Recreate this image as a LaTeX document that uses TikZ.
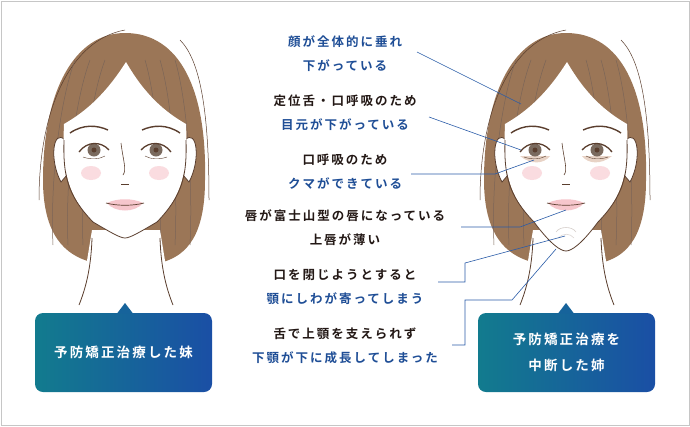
\documentclass[tikz,border=0pt]{standalone}
\usepackage{fontspec}
\setmainfont{Noto Sans CJK JP Bold}
\usetikzlibrary{positioning}
\definecolor{hairbrown}{HTML}{9B7657}
\definecolor{lineink}{HTML}{5A3E2E}
\definecolor{irisgray}{HTML}{7A6A5E}
\definecolor{blushpink}{HTML}{FADCE0}
\definecolor{lippink}{HTML}{F6C6CC}
\definecolor{bagbeige}{HTML}{E8D3C6}
\definecolor{textdark}{HTML}{231815}
\definecolor{textblue}{HTML}{1F4E96}
\definecolor{leadblue}{HTML}{2A5CA8}
\definecolor{boxteal}{HTML}{127B8E}
\definecolor{boxblue}{HTML}{1A4FA5}
\tikzset{
  note/.style={align=center, font=\fontsize{12.5}{24}\selectfont\addfontfeatures{LetterSpace=16}, text=textdark},
  lead/.style={draw=leadblue, line width=0.6pt},
  title/.style={align=center, text=white, font=\fontsize{13.5}{26}\selectfont\addfontfeatures{LetterSpace=16}},
  ink/.style={draw=lineink, line width=0.8pt},
}
% one face, #1 = x of centre, #2 = y of chin, #3 = eye bags or not
\newcommand{\drawface}[3]{%
\begin{scope}[shift={(#1,0)}]
 % hair
 \fill[hairbrown] (-34,262) .. controls (-60,255) and (-82,235) .. (-82,180)
   .. controls (-82,90) and (-50,33) .. (0,33)
   .. controls (55,33) and (82,90) .. (80,180)
   .. controls (80,235) and (62,255) .. (38,262) -- cycle;
 \draw[lineink, line width=0.5pt] (-86,200) .. controls (-86,110) and (-55,40) .. (0,30);
 \draw[lineink, line width=0.5pt] (55,40) .. controls (75,60) and (84,110) .. (84,200);
 \foreach \k in {-50,-35,-20}
   \draw[lineink!80, line width=0.5pt] (\k,60) .. controls (\k-15,100) and (\k-25,180) .. (\k-22,245);
 \foreach \k in {20,35,50}
   \draw[lineink!80, line width=0.5pt] (\k,60) .. controls (\k+12,100) and (\k+18,180) .. (\k+15,245);
 % neck
 \fill[white] (-33,230) -- (-46,310) -- (48,310) -- (35,230) -- cycle;
 \draw[ink] (-33,238) .. controls (-34,270) and (-40,290) .. (-46,305);
 \draw[ink] (35,238) .. controls (36,270) and (42,290) .. (48,305);
 % ears
 \foreach \s in {-1,1}
   \filldraw[fill=white, ink] (\s*60,140) .. controls (\s*72,128) and (\s*76,160) .. (\s*64,182) -- (\s*58,175) -- cycle;
 % face
 \fill[white] (1,62) .. controls (20,95) and (40,112) .. (61,124)
   .. controls (63,170) and (58,195) .. (32,222)
   .. controls (15,#2-6) and (5,#2) .. (0,#2)
   .. controls (-5,#2) and (-15,#2-6) .. (-32,222)
   .. controls (-58,195) and (-63,170) .. (-61,124)
   .. controls (-40,112) and (-20,95) .. (1,62) -- cycle;
 \draw[ink] (61,140) .. controls (62,175) and (58,195) .. (32,222)
   .. controls (15,#2-6) and (5,#2) .. (0,#2)
   .. controls (-5,#2) and (-15,#2-6) .. (-32,222)
   .. controls (-58,195) and (-62,175) .. (-61,140);
 % brows
 \draw[lineink, line width=1.4pt] (-55,133) .. controls (-42,124) and (-28,125) .. (-17,130);
 \draw[lineink, line width=1.4pt] (55,133) .. controls (42,124) and (28,125) .. (17,130);
 % bags and blush
 \ifx#3y
   \fill[bagbeige] (-46,156) .. controls (-35,165) and (-22,164) .. (-16,156) -- cycle;
   \fill[bagbeige] (46,156) .. controls (35,165) and (22,164) .. (16,156) -- cycle;
 \fi
 \fill[blushpink] (-34,173) ellipse (10 and 7);
 \fill[blushpink] (34,173) ellipse (10 and 7);
 % eyes
 \foreach \s in {-1,1} {
   \fill[irisgray] (\s*31,150) circle (6.5);
   \fill[lineink] (\s*31,150) circle (2.5);
   \draw[lineink, line width=1.3pt] (\s*46,152) .. controls (\s*38,141) and (\s*24,141) .. (\s*16,150);
   \draw[lineink, line width=0.4pt] (\s*42,157) .. controls (\s*34,160) and (\s*25,159) .. (\s*20,156);
 }
 % nose
 \draw[lineink, line width=0.6pt] (-4,143) .. controls (-2,160) and (2,170) .. (-2,175);
 \draw[lineink, line width=0.8pt] (-4,184) -- (4,184);
 % lips
 \fill[lippink] (-18,203) .. controls (-8,198) and (8,198) .. (18,203)
   .. controls (10,213) and (-10,213) .. (-18,203) -- cycle;
 \draw[lineink, line width=0.7pt] (-19,203) .. controls (-8,206) and (8,206) .. (19,203);
\end{scope}}
\begin{document}
\begin{tikzpicture}[x=1pt, y=-1pt]
\useasboundingbox (0,0) rectangle (690,426);
\draw[gray!45, line width=0.8pt] (1,1) rectangle (689,425);

% faces
\drawface{125}{238}{n}
\drawface{566}{251}{y}
% chin wrinkle on the older sister
\draw[lineink!25, line width=0.6pt] (556,232) .. controls (560,226) and (572,226) .. (576,232);
\draw[lineink!20, line width=0.6pt] (558,238) .. controls (563,233) and (570,233) .. (574,238);

% captions
\shade[left color=boxteal, right color=boxblue, rounded corners=8pt] (35,313) rectangle (212,392);
\fill[boxteal!45!boxblue] (117,313.5) -- (125,303) -- (133,313.5) -- cycle;
\node[title] (sister) at (123.5,352) {予防矯正治療した妹};
\shade[left color=boxteal, right color=boxblue, rounded corners=8pt] (478,313) rectangle (655,392);
\fill[boxteal!45!boxblue] (558,313.5) -- (566,303) -- (574,313.5) -- cycle;
\node[title] (elder) at (566.5,352) {予防矯正治療を\\中断した姉};

% notes
\node[note] (sag) at (345,54) {\textcolor{textblue}{顔が全体的に垂れ}\\\textcolor{textblue}{下がっている}};
\node[note] (eyes) at (345,113) {定位舌・口呼吸のため\\\textcolor{textblue}{目元が下がっている}};
\node[note] (bags) at (345,172) {口呼吸のため\\\textcolor{textblue}{クマができている}};
\node[note] (lips) at (345,228) {唇が富士山型の唇になっている\\上唇が薄い};
\node[note] (chin) at (345,287) {口を閉じようとすると\\\textcolor{textblue}{顎にしわが寄ってしまう}};
\node[note] (jaw) at (345,346) {舌で上顎を支えられず\\\textcolor{textblue}{下顎が下に成長してしまった}};

% leader ends
\coordinate (sagA) at (417,52);
\coordinate (sagB) at (521,104);
\coordinate (eyesA) at (429,117);
\coordinate (eyesB) at (521,150);
\coordinate (bagsA) at (411,174);
\coordinate (bagsB) at (534,160);
\coordinate (lipsA) at (461,227);
\coordinate (lipsB) at (566,210);
\coordinate (chinA) at (438,282);
\coordinate (chinB) at (565,236);
\coordinate (jawA) at (452,345);
\coordinate (jawB) at (556,249);

\draw[lead] (sagA) -- (sagB);
\draw[lead] (eyesA) -- (eyesB);
\draw[lead] (bagsA) -- (495,174) -- (bagsB);
\draw[lead] (lipsA) -- (520,227) -- (lipsB);
\draw[lead] (chinA) -- (465,282) -- (465,263) -- (chinB);
\draw[lead] (jawA) -- (465,345) -- (465,300) -- (512,300) -- (jawB);
\end{tikzpicture}
\end{document}
